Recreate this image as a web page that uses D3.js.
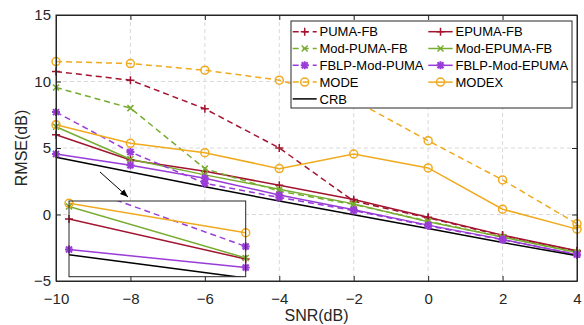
<!DOCTYPE html>
<html>
<head>
<meta charset="utf-8">
<script src="https://cdn.jsdelivr.net/npm/d3@7"></script>
<style>
  body { margin: 0; background: #fff; }
  svg { font-family: "Liberation Sans", Arial, sans-serif; }
</style>
</head>
<body>
<svg id="chart" width="584" height="325"></svg>
<script>
// data
const snr = [-10, -8, -6, -4, -2, 0, 2, 4];
const pumaFB        = [10.75, 10.1, 7.95, 5.0, 1.0, -0.25, -1.6, -2.75];
const epumaFB       = [6.0, 4.1, 3.25, 2.2, 1.12, -0.2, -1.55, -2.72];
const modPumaFB     = [9.55, 8.0, 3.45, 1.75, 0.75, -0.5, -1.7, -2.85];
const modEpumaFB    = [6.6, 4.15, 2.98, 1.9, 0.8, -0.55, -1.7, -2.85];
const fblpModPuma   = [7.7, 4.7, 2.35, 1.28, 0.3, -0.85, -1.9, -3.0];
const fblpModEpuma  = [4.55, 3.7, 2.72, 1.47, 0.35, -0.8, -1.87, -3.02];
const mode          = [11.5, 11.35, 10.85, 10.1, 8.6, 5.55, 2.6, -0.7];
const modex         = [6.75, 5.35, 4.65, 3.45, 4.55, 3.5, 0.4, -1.1];
const crb           = [4.3, 3.2, 2.08, 1.02, -0.02, -1.05, -2.1, -3.1];
const xTicks = [-10, -8, -6, -4, -2, 0, 2, 4];
const yTicks = [-5, 0, 5, 10, 15];

const RED = "#A2142F", GREEN = "#77AC30", PURPLE = "#9A3CD8", ORANGE = "#F0AA1E";

const series = [
  {name: "PUMA-FB",        v: pumaFB,       color: RED,    dash: true,  mk: "plus"},
  {name: "EPUMA-FB",       v: epumaFB,      color: RED,    dash: false, mk: "plus"},
  {name: "Mod-PUMA-FB",    v: modPumaFB,    color: GREEN,  dash: true,  mk: "x"},
  {name: "Mod-EPUMA-FB",   v: modEpumaFB,   color: GREEN,  dash: false, mk: "x"},
  {name: "FBLP-Mod-PUMA",  v: fblpModPuma,  color: PURPLE, dash: true,  mk: "star"},
  {name: "FBLP-Mod-EPUMA", v: fblpModEpuma, color: PURPLE, dash: false, mk: "star"},
  {name: "MODE",           v: mode,         color: ORANGE, dash: true,  mk: "circle"},
  {name: "MODEX",          v: modex,        color: ORANGE, dash: false, mk: "circle"},
  {name: "CRB",            v: crb,          color: "#000", dash: false, mk: null}
];

const svg = d3.select("#chart");
const L = 56, R = 577, T = 15, B = 281;
const x = d3.scaleLinear().domain([-10, 4]).range([L, R]);
const y = d3.scaleLinear().domain([-5, 15]).range([B, T]);
const AX = "#262626";

// grid
const grid = svg.append("g");
xTicks.slice(1, -1).forEach(t => grid.append("line")
  .attr("x1", x(t)).attr("x2", x(t)).attr("y1", T).attr("y2", B));
yTicks.slice(1, -1).forEach(t => grid.append("line")
  .attr("x1", L).attr("x2", R).attr("y1", y(t)).attr("y2", y(t)));
grid.selectAll("line").attr("stroke", "#d9d9d9").attr("stroke-width", 1).attr("stroke-dasharray", "4,3");

function marker(g, type, cx, cy, color) {
  const s = g.append("g").attr("transform", `translate(${cx},${cy})`)
    .attr("stroke", color).attr("fill", "none").attr("stroke-width", 1.5);
  if (type === "plus") {
    s.append("path").attr("d", "M-4,0H4M0,-4V4");
  } else if (type === "x") {
    s.append("path").attr("d", "M-3,-3L3,3M-3,3L3,-3");
  } else if (type === "star") {
    s.append("path").attr("d", "M-4,0H4M0,-4V4M-3,-3L3,3M-3,3L3,-3").attr("stroke-width", 2);
  } else if (type === "circle") {
    s.append("circle").attr("r", 4);
  }
}

function drawSeries(g, xs, ys, clipId, yDom) {
  const line = d3.line().x((d, i) => xs(snr[i])).y(d => ys(d));
  const lg = g.append("g");
  if (clipId) lg.attr("clip-path", `url(#${clipId})`);
  series.forEach(s => {
    lg.append("path").datum(s.v).attr("d", line)
      .attr("fill", "none").attr("stroke", s.color).attr("stroke-width", 1.5)
      .attr("stroke-dasharray", s.dash ? "6,4" : null);
  });
  series.forEach(s => {
    if (!s.mk) return;
    s.v.forEach((d, i) => {
      const xd = xs.domain();
      if (snr[i] < xd[0] || snr[i] > xd[1]) return;
      if (yDom && (d < yDom[0] || d > yDom[1])) return;
      marker(g, s.mk, xs(snr[i]), ys(d), s.color);
    });
  });
}

drawSeries(svg.append("g"), x, y, null, null);

// axes (box on, ticks inside)
svg.append("g").attr("transform", `translate(0,${B})`)
  .call(d3.axisBottom(x).tickValues(xTicks).tickSizeInner(-5).tickSizeOuter(0).tickPadding(12));
svg.append("g").attr("transform", `translate(0,${T})`)
  .call(d3.axisTop(x).tickValues(xTicks).tickSizeInner(-5).tickSizeOuter(0).tickFormat(""));
svg.append("g").attr("transform", `translate(${L},0)`)
  .call(d3.axisLeft(y).tickValues(yTicks).tickSizeInner(-5).tickSizeOuter(0).tickPadding(5));
svg.append("g").attr("transform", `translate(${R},0)`)
  .call(d3.axisRight(y).tickValues(yTicks).tickSizeInner(-5).tickSizeOuter(0).tickFormat(""));
svg.selectAll(".domain, .tick line").attr("stroke", AX).attr("stroke-width", 1);
svg.selectAll(".tick text").attr("fill", AX).style("font-size", "15px")
  .style("font-family", '"Liberation Sans", Arial, sans-serif');
svg.append("rect").attr("x", L).attr("y", T).attr("width", R - L).attr("height", B - T)
  .attr("fill", "none").attr("stroke", AX).attr("stroke-width", 1);

svg.append("text").attr("x", (L + R) / 2).attr("y", 321).attr("text-anchor", "middle")
  .attr("fill", AX).style("font-size", "16px").text("SNR(dB)");
svg.append("text").attr("transform", `translate(27,${(T + B) / 2}) rotate(-90)`)
  .attr("text-anchor", "middle").attr("fill", AX).style("font-size", "16px").text("RMSE(dB)");

// inset zoom of the -10..-8 region
const iL = 69, iR = 245.7, iT = 201, iB = 276.7;
const ix = d3.scaleLinear().domain([-10, -8]).range([iL, iR]);
const iyDom = [3.26, 6.86];
const iy = d3.scaleLinear().domain(iyDom).range([iB, iT]);
svg.append("defs").append("clipPath").attr("id", "insetClip")
  .append("rect").attr("x", iL).attr("y", iT).attr("width", iR - iL).attr("height", iB - iT);
svg.append("rect").attr("x", iL).attr("y", iT).attr("width", iR - iL).attr("height", iB - iT)
  .attr("fill", "#fff");
drawSeries(svg.append("g"), ix, iy, "insetClip", iyDom);
svg.append("rect").attr("x", iL).attr("y", iT).attr("width", iR - iL).attr("height", iB - iT)
  .attr("fill", "none").attr("stroke", AX).attr("stroke-width", 1);

// arrow
svg.select("defs").append("marker").attr("id", "arrow").attr("viewBox", "0 0 10 10")
  .attr("refX", 10).attr("refY", 5).attr("markerWidth", 8).attr("markerHeight", 8)
  .attr("orient", "auto")
  .append("path").attr("d", "M0,1L10,5L0,9Z").attr("fill", "#000");
svg.append("line").attr("x1", 100).attr("y1", 172).attr("x2", 128).attr("y2", 197)
  .attr("stroke", "#000").attr("stroke-width", 1).attr("marker-end", "url(#arrow)");

// legend
const lg = svg.append("g");
lg.append("rect").attr("x", 291).attr("y", 21).attr("width", 281).attr("height", 87)
  .attr("fill", "#fff").attr("stroke", AX).attr("stroke-width", 1);
const cols = [
  {x0: 292.7, x1: 316.7, tx: 319.5, items: [0, 2, 4, 6, 8]},
  {x0: 428.3, x1: 452.7, tx: 455.5, items: [1, 3, 5, 7]}
];
cols.forEach(c => {
  c.items.forEach((si, r) => {
    const s = series[si];
    const ry = 31.7 + r * 16.8;
    lg.append("line").attr("x1", c.x0).attr("x2", c.x1).attr("y1", ry).attr("y2", ry)
      .attr("stroke", s.color).attr("stroke-width", 1.5)
      .attr("stroke-dasharray", s.dash ? "6,4" : null);
    if (s.mk) marker(lg, s.mk, (c.x0 + c.x1) / 2, ry, s.color);
    lg.append("text").attr("x", c.tx).attr("y", ry + 4.6)
      .attr("fill", "#000").style("font-size", "13px").text(s.name);
  });
});
</script>
</body>
</html>
